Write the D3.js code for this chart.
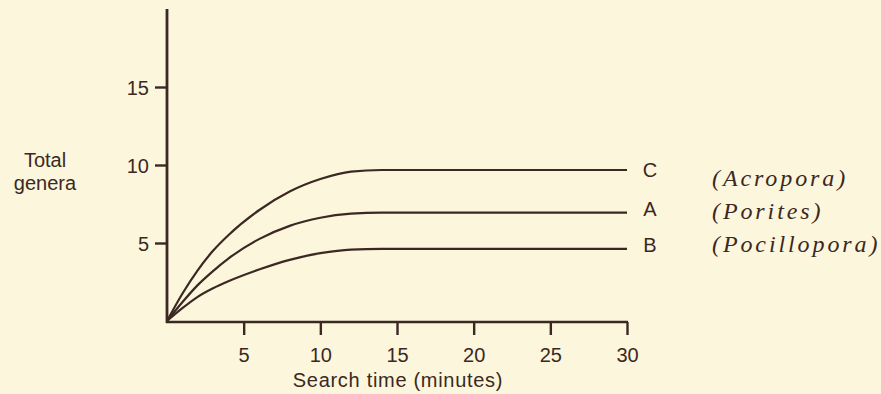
<!DOCTYPE html>
<meta charset="utf-8">
<style>
body { margin: 0; background: #fcf6dc; }
svg { display: block; }
.axis path, .axis line { stroke: #3b2823; }
.axis text, .label { font: 20px "Liberation Sans", Arial, sans-serif; fill: #3b2823; }
.genus { font: italic 24px "Liberation Serif", "Times New Roman", serif; fill: #3b2823; letter-spacing: 2.9px; }
.curve { fill: none; stroke: #3b2823; stroke-width: 2.2; }
</style>
<svg width="881" height="394"></svg>
<script src="https://cdn.jsdelivr.net/npm/d3@7"></script>
<script>

// search time (minutes) sampled along each curve
var times = [0, 1, 2, 3, 4, 6, 8, 10, 12, 14, 30];

// total genera found
var curveC = [0, 1.75, 3.25, 4.5, 5.5, 7.1, 8.3, 9.1, 9.58, 9.68, 9.68],
    curveA = [0, 1.2, 2.3, 3.2, 4.0, 5.25, 6.1, 6.62, 6.88, 6.95, 6.95],
    curveB = [0, 0.82, 1.55, 2.1, 2.55, 3.3, 3.92, 4.35, 4.58, 4.62, 4.62];

var seriesNames = ["C", "A", "B"],
    genusNames = ["(Acropora)", "(Porites)", "(Pocillopora)"];

var xTicks = [5, 10, 15, 20, 25, 30],
    yTicks = [5, 10, 15];

var svg = d3.select("svg");

var x = d3.scaleLinear().domain([0, 30]).range([167, 627]),
    y = d3.scaleLinear().domain([0, 20]).range([321, 9]);

// x axis
var xAxis = svg.append("g")
    .attr("class", "axis")
    .attr("transform", "translate(0,322)")
    .call(d3.axisBottom(x).tickValues(xTicks).tickSize(13).tickPadding(13).tickSizeOuter(0));
xAxis.select(".domain").attr("stroke-width", 2.6).attr("d", "M" + (x(0) - 1) + ",0H" + (x(30) + 1));
xAxis.selectAll(".tick line").attr("stroke-width", 2.4);

// y axis
var yAxis = svg.append("g")
    .attr("class", "axis")
    .attr("transform", "translate(167,0)")
    .call(d3.axisLeft(y).tickValues(yTicks).tickSize(12).tickPadding(6).tickSizeOuter(0));
yAxis.select(".domain").attr("stroke-width", 2.8).attr("d", "M0," + y(20) + "V" + (y(0) + 2));
yAxis.selectAll(".tick line").attr("stroke-width", 2.4);
yAxis.selectAll(".tick text").attr("dy", "0.36em");

svg.append("text")
    .attr("class", "label")
    .attr("x", 398)
    .attr("y", 387)
    .attr("text-anchor", "middle")
    .style("letter-spacing", "0.7px")
    .text("Search time (minutes)");

var yTitle = svg.append("text")
    .attr("class", "label")
    .attr("text-anchor", "middle");
yTitle.append("tspan").attr("x", 45).attr("y", 167).text("Total");
yTitle.append("tspan").attr("x", 45).attr("y", 190).text("genera");

// curves
var series = [curveC, curveA, curveB].map(function(vals, i) {
  return { name: seriesNames[i], genus: genusNames[i], points: vals.map(function(v, j) { return [times[j], v]; }) };
});

var line = d3.line()
    .x(function(d) { return x(d[0]); })
    .y(function(d) { return y(d[1]); })
    .curve(d3.curveMonotoneX);

svg.selectAll(".curve")
    .data(series)
  .enter().append("path")
    .attr("class", "curve")
    .attr("d", function(d) { return line(d.points); });

// end labels
svg.selectAll(".end")
    .data(series)
  .enter().append("text")
    .attr("class", "label end")
    .attr("x", 650)
    .attr("y", function(d, i) { return y(d.points[d.points.length - 1][1]) + 7 - (i ? 4 : 0); })
    .attr("text-anchor", "middle")
    .text(function(d) { return d.name; });

svg.selectAll(".genus")
    .data(series)
  .enter().append("text")
    .attr("class", "genus")
    .attr("x", 712)
    .attr("y", function(d, i) { return 186 + i * 33; })
    .text(function(d) { return d.genus; });

</script>
